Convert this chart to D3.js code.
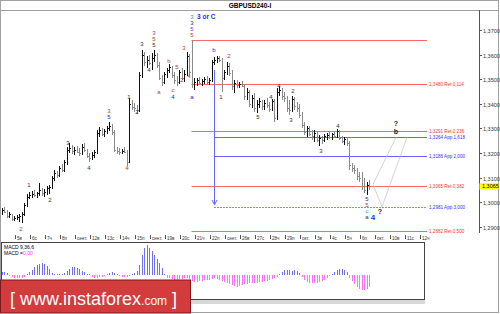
<!DOCTYPE html>
<html><head><meta charset="utf-8">
<script src="https://cdn.jsdelivr.net/npm/d3@7/dist/d3.min.js"></script>
<style>
body{margin:0;background:#fff}
svg{display:block}
text{font-family:"Liberation Sans",Arial,sans-serif}
</style>
</head><body>
<svg id="chart" width="500" height="314"></svg>
<script>
// ---------------- DATA ----------------
const title = "GBPUSD240-I";
const barOpen = [1.2960,1.2968,1.2960,1.2944,1.2952,1.2932,1.2936,1.2940,1.2944,1.2952,1.2989,1.3021,1.3029,1.3033,1.3029,1.3037,1.3050,1.3037,1.3041,1.3058,1.3062,1.3098,1.3119,1.3111,1.3139,1.3131,1.3163,1.3212,1.3220,1.3208,1.3212,1.3204,1.3200,1.3224,1.3212,1.3188,1.3180,1.3192,1.3204,1.3281,1.3293,1.3277,1.3289,1.3302,1.3310,1.3285,1.3212,1.3208,1.3204,1.3208,1.3204,1.3163,1.3399,1.3387,1.3383,1.3375,1.3517,1.3598,1.3570,1.3578,1.3566,1.3586,1.3598,1.3558,1.3505,1.3489,1.3521,1.3537,1.3550,1.3517,1.3497,1.3489,1.3529,1.3505,1.3521,1.3594,1.3529,1.3480,1.3489,1.3497,1.3485,1.3493,1.3501,1.3489,1.3497,1.3570,1.3578,1.3586,1.3578,1.3505,1.3529,1.3554,1.3525,1.3472,1.3485,1.3476,1.3480,1.3472,1.3432,1.3448,1.3399,1.3424,1.3383,1.3399,1.3411,1.3391,1.3403,1.3395,1.3379,1.3411,1.3342,1.3448,1.3456,1.3432,1.3424,1.3383,1.3375,1.3420,1.3391,1.3383,1.3354,1.3314,1.3285,1.3302,1.3277,1.3269,1.3281,1.3253,1.3261,1.3253,1.3269,1.3273,1.3265,1.3277,1.3269,1.3289,1.3261,1.3249,1.3257,1.3241,1.3151,1.3139,1.3131,1.3106,1.3098,1.3066,1.3050,1.3070];
const barHigh = [1.2976,1.2980,1.2968,1.2960,1.2952,1.2944,1.2948,1.2952,1.2960,1.2997,1.3033,1.3041,1.3045,1.3050,1.3041,1.3078,1.3058,1.3054,1.3066,1.3070,1.3106,1.3131,1.3127,1.3147,1.3155,1.3172,1.3224,1.3241,1.3233,1.3224,1.3228,1.3220,1.3237,1.3241,1.3216,1.3200,1.3204,1.3212,1.3293,1.3306,1.3302,1.3298,1.3310,1.3326,1.3318,1.3293,1.3224,1.3220,1.3216,1.3224,1.3212,1.3424,1.3415,1.3403,1.3395,1.3529,1.3619,1.3611,1.3594,1.3598,1.3607,1.3619,1.3607,1.3570,1.3517,1.3529,1.3546,1.3562,1.3554,1.3529,1.3513,1.3537,1.3546,1.3537,1.3611,1.3602,1.3659,1.3505,1.3505,1.3509,1.3501,1.3509,1.3513,1.3505,1.3578,1.3590,1.3594,1.3594,1.3586,1.3537,1.3570,1.3566,1.3537,1.3497,1.3497,1.3489,1.3493,1.3480,1.3464,1.3456,1.3436,1.3444,1.3415,1.3424,1.3415,1.3415,1.3424,1.3407,1.3420,1.3420,1.3464,1.3472,1.3464,1.3448,1.3432,1.3415,1.3432,1.3428,1.3407,1.3399,1.3367,1.3326,1.3310,1.3310,1.3293,1.3293,1.3289,1.3273,1.3269,1.3277,1.3281,1.3285,1.3281,1.3289,1.3298,1.3293,1.3269,1.3265,1.3265,1.3249,1.3159,1.3151,1.3139,1.3123,1.3123,1.3098,1.3082,1.3090];
const barLow = [1.2948,1.2956,1.2936,1.2936,1.2923,1.2923,1.2928,1.2919,1.2915,1.2944,1.2980,1.3013,1.3017,1.3021,1.3017,1.3025,1.3025,1.3021,1.3029,1.3033,1.3054,1.3086,1.3098,1.3102,1.3123,1.3123,1.3151,1.3200,1.3196,1.3192,1.3200,1.3188,1.3192,1.3204,1.3180,1.3163,1.3172,1.3180,1.3196,1.3265,1.3269,1.3265,1.3277,1.3289,1.3273,1.3204,1.3196,1.3192,1.3196,1.3200,1.3147,1.3159,1.3375,1.3367,1.3359,1.3367,1.3505,1.3554,1.3546,1.3558,1.3537,1.3570,1.3546,1.3497,1.3472,1.3480,1.3505,1.3525,1.3505,1.3480,1.3472,1.3480,1.3497,1.3489,1.3513,1.3513,1.3464,1.3456,1.3472,1.3476,1.3472,1.3480,1.3480,1.3476,1.3489,1.3558,1.3566,1.3570,1.3448,1.3497,1.3517,1.3513,1.3456,1.3444,1.3464,1.3464,1.3468,1.3415,1.3415,1.3387,1.3383,1.3367,1.3363,1.3383,1.3375,1.3375,1.3383,1.3367,1.3371,1.3326,1.3334,1.3432,1.3415,1.3407,1.3367,1.3354,1.3367,1.3375,1.3367,1.3342,1.3302,1.3273,1.3265,1.3269,1.3253,1.3245,1.3245,1.3228,1.3237,1.3245,1.3253,1.3257,1.3253,1.3261,1.3261,1.3253,1.3241,1.3233,1.3228,1.3131,1.3123,1.3115,1.3090,1.3082,1.3050,1.3037,1.3029,1.3050];
const barClose = [1.2968,1.2960,1.2944,1.2952,1.2932,1.2936,1.2940,1.2944,1.2952,1.2989,1.3021,1.3029,1.3033,1.3029,1.3037,1.3050,1.3037,1.3041,1.3058,1.3062,1.3098,1.3119,1.3111,1.3139,1.3131,1.3163,1.3212,1.3220,1.3208,1.3212,1.3204,1.3200,1.3224,1.3212,1.3188,1.3180,1.3192,1.3204,1.3281,1.3293,1.3277,1.3289,1.3302,1.3310,1.3285,1.3212,1.3208,1.3204,1.3208,1.3204,1.3163,1.3399,1.3387,1.3383,1.3375,1.3517,1.3598,1.3570,1.3578,1.3566,1.3586,1.3598,1.3558,1.3505,1.3489,1.3521,1.3537,1.3550,1.3517,1.3497,1.3489,1.3529,1.3505,1.3521,1.3594,1.3529,1.3480,1.3489,1.3497,1.3485,1.3493,1.3501,1.3489,1.3497,1.3570,1.3578,1.3586,1.3578,1.3505,1.3529,1.3554,1.3525,1.3472,1.3485,1.3476,1.3480,1.3472,1.3432,1.3448,1.3399,1.3424,1.3383,1.3399,1.3411,1.3391,1.3403,1.3395,1.3379,1.3411,1.3342,1.3448,1.3456,1.3432,1.3424,1.3383,1.3375,1.3420,1.3391,1.3383,1.3354,1.3314,1.3285,1.3302,1.3277,1.3269,1.3281,1.3253,1.3261,1.3253,1.3269,1.3273,1.3265,1.3277,1.3269,1.3289,1.3261,1.3249,1.3257,1.3241,1.3151,1.3139,1.3131,1.3106,1.3098,1.3066,1.3050,1.3070,1.3065];
// MACD histogram (price units)
const macdHist = [0.0003,0.0003,0.0002,-0.0001,-0.0002,-0.0003,-0.0003,-0.0003,-0.0003,-0.0002,0.0001,0.0003,0.0005,0.0008,0.0010,0.0011,0.0012,0.0011,0.0009,0.0006,0.0002,0.0001,0.0001,0.0001,0.0001,0.0002,0.0004,0.0006,0.0008,0.0008,0.0007,0.0006,0.0004,0.0003,0.0001,0.0001,-0.0002,-0.0003,-0.0003,-0.0002,-0.0002,-0.0001,0.0001,0.0002,0.0003,0.0002,0.0001,-0.0001,-0.0002,-0.0002,-0.0002,-0.0001,0.0001,0.0002,0.0004,0.0010,0.0020,0.0027,0.0030,0.0027,0.0024,0.0020,0.0016,0.0012,0.0007,0.0001,-0.0003,-0.0003,-0.0004,-0.0005,-0.0005,-0.0004,-0.0004,-0.0003,-0.0003,-0.0004,-0.0006,-0.0007,-0.0007,-0.0006,-0.0006,-0.0005,-0.0005,-0.0005,-0.0004,-0.0003,-0.0004,-0.0005,-0.0006,-0.0007,-0.0008,-0.0009,-0.0010,-0.0011,-0.0012,-0.0011,-0.0010,-0.0009,-0.0009,-0.0008,-0.0008,-0.0008,-0.0008,-0.0007,-0.0007,-0.0006,-0.0006,-0.0005,-0.0004,-0.0003,-0.0002,0.0001,0.0003,0.0005,0.0005,0.0005,0.0004,0.0005,0.0004,0.0002,-0.0002,-0.0005,-0.0007,-0.0008,-0.0008,-0.0008,-0.0008,-0.0007,-0.0006,-0.0005,-0.0003,-0.0001,0.0001,0.0003,0.0005,0.0006,0.0006,0.0005,0.0003,-0.0003,-0.0006,-0.0009,-0.0012,-0.0014,-0.0015,-0.0015,-0.0014,-0.0012];
const dayLabels = ["5в","6с","7ч","8п","сент.","12в","13с","14ч","15п","сент.","19в","20с","21ч","22п","сент.","26в","27с","28ч","29п","окт.","3в","4с","5ч","6п","окт.","10в","11с","12ч"];
const priceTicks = [1.37,1.36,1.35,1.34,1.33,1.32,1.31,1.30,1.29];
const currentPrice = 1.3065;
// Fibonacci levels
const levelPrices = [1.3659,1.3480,1.3291,1.3264,1.3186,1.3065,1.2981,1.2882];
const levelLabels = ["","1,3480 Ret 0,114","1,3291 Ret 0,236","1,3264 App 1,618","1,3186 App 2,000","1,3065 Ret 0,382","1,2981 App 3,000","1,2882 Ret 0,500"];
const levelKinds = ["ret","ret","ret","app","app","ret","app2","ret"];
// wave labels: [bar index, price, text, colour key]
const waveLabels = [
 [7.8,1.2891,"2","r"],[11,1.3070,"1","k"],[19.4,1.3009,"2","k"],[26.6,1.3241,"3","k"],[35,1.3139,"4","k"],
 [43,1.3371,"3","r"],[43,1.3346,"5","b"],[50.2,1.3139,"4","r"],[51,1.3428,"1","k"],[54.2,1.3367,"2","k"],
 [56.2,1.3643,"3","k"],[59,1.3537,"4","k"],[61,1.3688,"3","p"],[61,1.3663,"5","r"],[61,1.3639,"5","k"],
 [63,1.3448,"a","r"],[67,1.3574,"b","r"],[68.6,1.3456,"c","r"],[68.6,1.3428,"4","b"],[70.2,1.3550,"5","r"],
 [72.2,1.3497,"2","r"],[73,1.3627,"3","r"],[75,1.3513,"4","r"],[76.2,1.3428,"a","b"],
 [76.2,1.3753,"3","c"],[76.2,1.3728,"3","b"],[76.2,1.3704,"5","p"],[76.2,1.3680,"5","r"],
 [85,1.3619,"b","b"],[87.8,1.3428,"1","k"],[91,1.3594,"2","r"],[102.6,1.3346,"5","k"],[107.8,1.3428,"4","k"],
 [111,1.3472,"4","k"],[115.8,1.3334,"3","k"],[116.6,1.3452,"2","k"],[127.8,1.3208,"3","k"],[134.6,1.3310,"4","k"],
 [146.2,1.3013,"5","k"],[146.2,1.2989,"5","r"],[146.2,1.2964,"c","c"],[146.2,1.2940,"a","k"]
];
const projA = [[148.6,1.3072],[157.8,1.3264]];
const projB = [[148.6,1.3072],[152.2,1.2981],[162.2,1.3264]];

// ---------------- DRAW ----------------
const svg = d3.select("#chart");
const W = 500, H = 314;
const x = d3.scaleLinear().domain([0, 1]).range([1.5, 4]);       // bar index -> px
const y = d3.scaleLinear().domain([1.29, 1.37]).range([226.8, 30]); // price -> px
const ym = d3.scaleLinear().domain([0, 0.003]).range([275, 245]);   // MACD

const colors = {r:"#c0392b", k:"#333", b:"#2222ee", p:"#7b3fe0", c:"#33a0e0"};
const redLine = "#ff6666", blueLine = "#6666ff";

// frame
svg.append("rect").attr("x",0.5).attr("y",0.5).attr("width",498).attr("height",312)
  .attr("fill","#fff").attr("stroke","#a0a0a0");
svg.append("line").attr("x1",0).attr("x2",499).attr("y1",10.5).attr("y2",10.5).attr("stroke","#a0a0a0");
svg.append("text").attr("x",250).attr("y",8).attr("text-anchor","middle")
  .attr("font-size",6.5).attr("font-weight","bold").attr("fill","#000").text(title);

// right axis separator
svg.append("line").attr("x1",479.5).attr("x2",479.5).attr("y1",10).attr("y2",233).attr("stroke","#555");

// price axis
const yAxis = svg.append("g");
priceTicks.forEach(p => {
  const yy = Math.round(y(p)) + 0.5;
  yAxis.append("line").attr("x1",479).attr("x2",482).attr("y1",yy).attr("y2",yy).attr("stroke","#555");
  yAxis.append("text").attr("x",483).attr("y",yy+2).attr("font-size",5.5).attr("fill","#333")
    .text(d3.format(".4f")(p).replace(".",","));
});

// level lines
const redStart = x(76), blueStart = x(85), lineEnd = 427;
levelPrices.forEach((p,k) => {
  const yy = Math.round(y(p)) + 0.5;
  const kind = levelKinds[k];
  const col = kind === "ret" ? redLine : (kind === "app" ? blueLine : "#8888ff");
  svg.append("line").attr("x1", kind === "ret" ? redStart : blueStart).attr("x2", lineEnd)
    .attr("y1",yy).attr("y2",yy).attr("stroke",col).attr("stroke-width",1)
    .attr("stroke-dasharray", kind === "app2" ? "2,1" : null);
  if (levelLabels[k]) {
    svg.append("text").attr("x",429).attr("y",yy+1.8).attr("font-size",4.6)
      .attr("fill", kind === "ret" ? "#ff3333" : "#3333ff").text(levelLabels[k]);
  }
});

// vertical blue arrow
const bx = Math.round(blueStart) + 0.5;
svg.append("line").attr("x1",bx).attr("x2",bx).attr("y1",y(1.3537)).attr("y2",y(1.2993)).attr("stroke",blueLine);
svg.append("path").attr("d",`M${bx-2.5},${y(1.3009)} L${bx},${y(1.2989)} L${bx+2.5},${y(1.3009)}`)
  .attr("fill","none").attr("stroke",blueLine);

// projection lines
const lineGen = d3.line().x(d => x(d[0])).y(d => y(d[1]));
[projA, projB].forEach(pts => svg.append("path").attr("d", lineGen(pts))
  .attr("fill","none").attr("stroke","#c8c8c8").attr("stroke-width",0.8));

// OHLC bars
const bars = svg.append("g").attr("shape-rendering","crispEdges");
barClose.forEach((c,i) => {
  const cx = Math.round(x(i)) + 0.5;
  const up = c >= barOpen[i];
  const col = up ? "#111" : "#8a8a8a";
  bars.append("line").attr("x1",cx).attr("x2",cx).attr("y1",y(barHigh[i])).attr("y2",y(barLow[i])).attr("stroke",col);
  const yo = Math.round(y(barOpen[i])) + 0.5, yc = Math.round(y(c)) + 0.5;
  bars.append("line").attr("x1",cx-1).attr("x2",cx).attr("y1",yo).attr("y2",yo).attr("stroke",col);
  bars.append("line").attr("x1",cx).attr("x2",cx+1).attr("y1",yc).attr("y2",yc).attr("stroke",col);
});

// wave labels
waveLabels.forEach(w => {
  svg.append("text").attr("x",x(w[0])).attr("y",y(w[1])+2).attr("text-anchor","middle")
    .attr("font-size",6).attr("fill",colors[w[3]]).text(w[2]);
});
svg.append("text").attr("x",x(78.2)).attr("y",y(1.3753)+2.2).attr("font-size",6.5)
  .attr("font-weight","bold").attr("fill","#2233ee").text("3 or C");
svg.append("text").attr("x",x(148.6)).attr("y",y(1.2940)+2.8).attr("text-anchor","middle")
  .attr("font-size",8).attr("font-weight","bold").attr("fill","#2233ee").text("4");
svg.append("text").attr("x",x(151.4)).attr("y",y(1.2964)+2.5).attr("text-anchor","middle")
  .attr("font-size",7).attr("font-weight","bold").attr("fill","#222").text("?");
svg.append("text").attr("x",x(157.8)).attr("y",y(1.3318)+2.5).attr("text-anchor","middle")
  .attr("font-size",7).attr("font-weight","bold").attr("fill","#222").text("?");
svg.append("text").attr("x",x(157.8)).attr("y",y(1.3289)+2.5).attr("text-anchor","middle")
  .attr("font-size",7).attr("font-weight","bold").attr("fill","#222").text("b");

// current price box
const cy = y(currentPrice);
svg.append("rect").attr("x",479.5).attr("y",cy-3).attr("width",19).attr("height",6.5).attr("fill","#ffff00");
svg.append("text").attr("x",482).attr("y",cy+2).attr("font-size",5.5).attr("fill","#000")
  .text(d3.format(".4f")(currentPrice).replace(".",","));

// time axis
const tAxis = svg.append("g");
dayLabels.forEach((lab,k) => {
  const tx = Math.round(x(6*(k+1) - 0.6)) + 0.5;
  tAxis.append("line").attr("x1",tx).attr("x2",tx).attr("y1",235).attr("y2",239).attr("stroke","#555");
  tAxis.append("text").attr("x",tx+1.5).attr("y",239.5).attr("font-size",4.6).attr("fill","#333").text(lab);
});

// MACD panel
svg.append("rect").attr("x",1.5).attr("y",242.5).attr("width",423).attr("height",57)
  .attr("fill","none").attr("stroke","#444");
const mg = svg.append("g").attr("shape-rendering","crispEdges");
macdHist.forEach((v,i) => {
  const cx = Math.round(x(i)) + 0.5;
  mg.append("line").attr("x1",cx).attr("x2",cx).attr("y1",ym(0)).attr("y2",ym(v))
    .attr("stroke", v >= 0 ? "#6f6ff5" : "#ff70ff");
});
svg.append("text").attr("x",4).attr("y",249).attr("font-size",5).attr("fill","#000").text("MACD 9,36,6");
const mt = svg.append("text").attr("x",4).attr("y",255).attr("font-size",5).attr("fill","#000");
mt.append("tspan").text("MACD =");
mt.append("tspan").attr("fill","#ff33ff").text("0,00");

// scrollbar
svg.append("rect").attr("x",190).attr("y",300).attr("width",235).attr("height",4).attr("fill","#d8d8d8");

// watermark
svg.append("rect").attr("x",0.5).attr("y",280).attr("width",190).attr("height",33)
  .attr("fill","#d23c3c").attr("stroke","#7a1a1a");
const wm = svg.append("text").attr("x",10).attr("y",305).attr("fill","#fff")
  .attr("font-family","'Open Sans',Arial,sans-serif").attr("font-size",18);
wm.append("tspan").text("[ ");
wm.append("tspan").text("www.instaforex");
wm.append("tspan").attr("font-size",12).text(".com");
wm.append("tspan").text(" ]");
</script>
</body></html>
